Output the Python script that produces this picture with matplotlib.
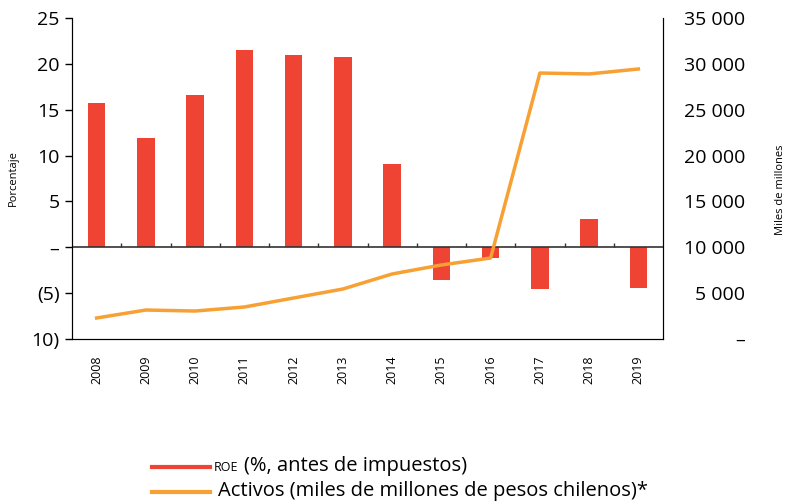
import numpy as np
import matplotlib.pyplot as plt
from matplotlib.lines import Line2D

plt.rcParams['font.family'] = ['Open Sans', 'DejaVu Sans']

# datos
anios = ['2008', '2009', '2010', '2011', '2012', '2013', '2014', '2015', '2016', '2017', '2018', '2019']
roe = [15.7, 11.9, 16.6, 21.5, 21.0, 20.7, 9.05, -3.6, -1.2, -4.5, 3.05, -4.4]
activos = [2290, 3160, 3050, 3490, 4470, 5450, 7090, 8070, 8830, 29000, 28900, 29440]

rojo = '#EF4433'
naranja = '#F7A033'

fig = plt.figure(figsize=(7.85, 5.04), dpi=100)
fig.patch.set_facecolor('white')
ax1 = fig.add_axes([72/785, 1-339/504, (663-72)/785, (339-18)/504])

x = np.arange(len(anios))
ax1.bar(x, roe, width=0.36, color=rojo, zorder=2)
ax1.axhline(0, color='#333333', lw=1.2, zorder=3)
ax1.vlines(x[1:] - 0.5, 0, 0.45, color='#333333', lw=1.0, zorder=3)

ax1.set_xlim(-0.5, len(anios) - 0.5)
ax1.set_ylim(-10, 25)
ax1.set_yticks([25, 20, 15, 10, 5, 0, -5, -10])
ax1.set_yticklabels(['25', '20', '15', '10', '5', '–', '(5)', '10)'], fontsize=14)
ax1.set_xticks(x)
ax1.set_xticklabels(anios, rotation=90, fontsize=9)
ax1.tick_params(axis='x', length=0, pad=12)
ax1.tick_params(axis='y', length=5, width=1, pad=4)
ax1.spines['top'].set_visible(False)
for s in ['left', 'right', 'bottom']:
    ax1.spines[s].set_color('#222222')
ax1.set_ylabel('Porcentaje', fontsize=8)
ax1.yaxis.set_label_coords(-0.09, 0.5)

ax2 = ax1.twinx()
ax2.plot(x, activos, color=naranja, lw=2.5, zorder=4)
ax2.set_ylim(0, 35000)
ax2.set_yticks(np.arange(0, 35001, 5000))
ax2.set_yticklabels(['–', '5 000', '10 000', '15 000', '20 000', '25 000', '30 000', '35 000'], fontsize=14)
ax2.tick_params(axis='y', length=0, pad=59)
for lab in ax2.get_yticklabels():
    lab.set_horizontalalignment('right')
ax2.spines['top'].set_visible(False)
ax2.set_ylabel('Miles de millones', fontsize=8)
ax2.yaxis.set_label_coords(1.19, 0.464)

# leyenda
fig.add_artist(Line2D([152/785, 210/785], [1-467/504, 1-467/504], color=rojo, lw=3))
fig.add_artist(Line2D([152/785, 210/785], [1-492/504, 1-492/504], color=naranja, lw=3))
fig.text(214/785, 1-471/504, 'ROE', fontsize=9, va='baseline')
fig.text(244/785, 1-471/504, '(%, antes de impuestos)', fontsize=14.5, va='baseline')
fig.text(218/785, 1-496/504, 'Activos (miles de millones de pesos chilenos)*', fontsize=14.5, va='baseline')

fig.savefig('out.png', dpi=100)
